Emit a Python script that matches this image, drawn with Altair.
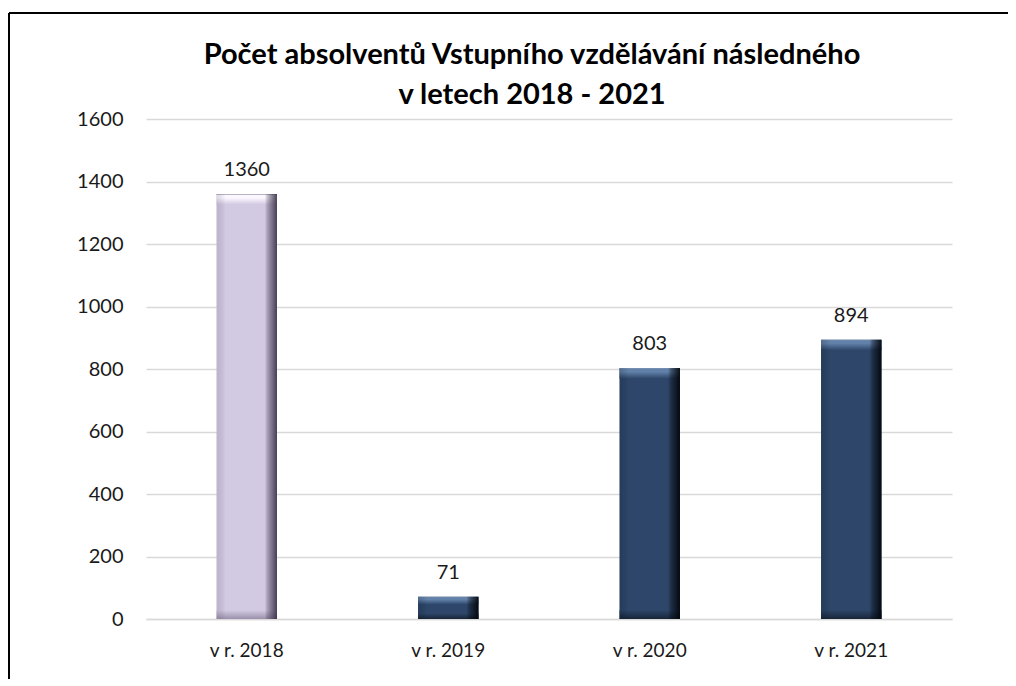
import altair as alt
import pandas as pd

categories = ["v r. 2018", "v r. 2019", "v r. 2020", "v r. 2021"]
values = [1360, 71, 803, 894]
groups = ["light", "dark", "dark", "dark"]
title_lines = ["Počet absolventů Vstupního vzdělávání následného", "v letech 2018 - 2021"]

df = pd.DataFrame({"cat": categories, "value": values, "grp": groups})
tdf = pd.DataFrame({"line": title_lines, "idx": [0, 1]})

palettes = {
    "light": {"base": "#d2c9e2", "top": "#fbf7ff", "bottom": "#9a90ab",
              "lefthi": "rgba(90,80,115,0.18)", "rightlo": "rgba(55,45,70,0.9)",
              "rightmid": "rgba(55,45,70,0.35)"},
    "dark": {"base": "#2d4669", "top": "#6281a9", "bottom": "#172538",
             "lefthi": "rgba(10,20,35,0.2)", "rightlo": "rgba(3,6,12,0.95)",
             "rightmid": "rgba(3,6,12,0.4)"},
}

FONT = "Lato"
xenc = alt.X("cat:N", sort=categories, title=None,
             scale=alt.Scale(paddingInner=0.7, paddingOuter=0.35),
             axis=alt.Axis(labelAngle=0, labelFontSize=19, labelPadding=22, ticks=False,
                           domainColor="#d9d9d9", domainWidth=1.5, labelColor="#1a1a1a",
                           labelFont=FONT))
yscale = alt.Scale(domain=[0, 1600])
yaxis = alt.Axis(values=list(range(0, 1601, 200)), format="d", labelFontSize=20,
                 labelPadding=23, ticks=False, domain=False, gridColor="#d9d9d9",
                 gridWidth=1.5, labelColor="#1a1a1a", labelFont=FONT, title=None)

base = alt.Chart(df)
layers = []
for g, p in palettes.items():
    topg = alt.Gradient(gradient="linear", x1=0, x2=0, y1=0, y2=1, stops=[
        alt.GradientStop(color="#8f86a0" if g == "light" else "#7d93b3", offset=0),
        alt.GradientStop(color=p["top"], offset=0.12),
        alt.GradientStop(color=p["top"], offset=0.35),
        alt.GradientStop(color=p["base"], offset=1),
    ])
    botg = alt.Gradient(gradient="linear", x1=0, x2=0, y1=0, y2=1, stops=[
        alt.GradientStop(color=p["base"], offset=0),
        alt.GradientStop(color=p["bottom"], offset=1),
    ])
    side = alt.Gradient(gradient="linear", x1=0, x2=1, y1=0, y2=0, stops=[
        alt.GradientStop(color=p["lefthi"], offset=0),
        alt.GradientStop(color="rgba(0,0,0,0)", offset=0.15),
        alt.GradientStop(color="rgba(0,0,0,0)", offset=0.8),
        alt.GradientStop(color=p["rightmid"], offset=0.86),
        alt.GradientStop(color=p["rightlo"], offset=1),
    ])
    sub = base.transform_filter(alt.datum.grp == g).transform_calculate(
        top2="datum.value - min(34, datum.value * 0.35)",
        bot2="min(28, datum.value * 0.25)",
    )
    layers.append(sub.mark_bar(color=p["base"]).encode(
        x=xenc, y=alt.Y("value:Q", scale=yscale, axis=yaxis)))
    layers.append(sub.mark_bar(color=topg).encode(
        x=xenc, y=alt.Y("value:Q", scale=yscale), y2="top2:Q"))
    layers.append(sub.mark_bar(color=botg).encode(
        x=xenc, y=alt.Y("bot2:Q", scale=yscale), y2=alt.datum(0)))
    layers.append(sub.mark_bar(color=side).encode(
        x=xenc, y=alt.Y("value:Q", scale=yscale)))

labels = base.mark_text(fontSize=20, dy=-18, baseline="alphabetic", font=FONT,
                        color="#1a1a1a").encode(
    x=alt.X("cat:N", sort=categories), y=alt.Y("value:Q", scale=yscale), text="value:Q")

title1 = alt.Chart(tdf).transform_filter(alt.datum.idx == 0).mark_text(
    fontSize=29, font=FONT, fontWeight="bold", color="#000000", baseline="alphabetic",
    align="center").encode(x=alt.value(386), y=alt.value(-55), text="line:N")
title2 = alt.Chart(tdf).transform_filter(alt.datum.idx == 1).mark_text(
    fontSize=29, font=FONT, fontWeight="bold", color="#000000", baseline="alphabetic",
    align="center").encode(x=alt.value(386), y=alt.value(-15), text="line:N")

top_border = base.mark_rule(color="black", strokeWidth=2).encode(
    x=alt.value(-137), x2=alt.value(900), y=alt.value(-106))
left_border = base.mark_rule(color="black", strokeWidth=2).encode(
    x=alt.value(-137), y=alt.value(-106), y2=alt.value(700))

chart = alt.layer(*layers, labels, title1, title2, top_border, left_border).properties(
    width=806, height=500,
    autosize=alt.AutoSizeParams(type="none"),
    padding={"left": 138, "top": 111, "right": 56, "bottom": 60},
).configure(background="white").configure_view(stroke=None)

chart.save("out.html", embed_options={"renderer": "svg", "actions": False})
